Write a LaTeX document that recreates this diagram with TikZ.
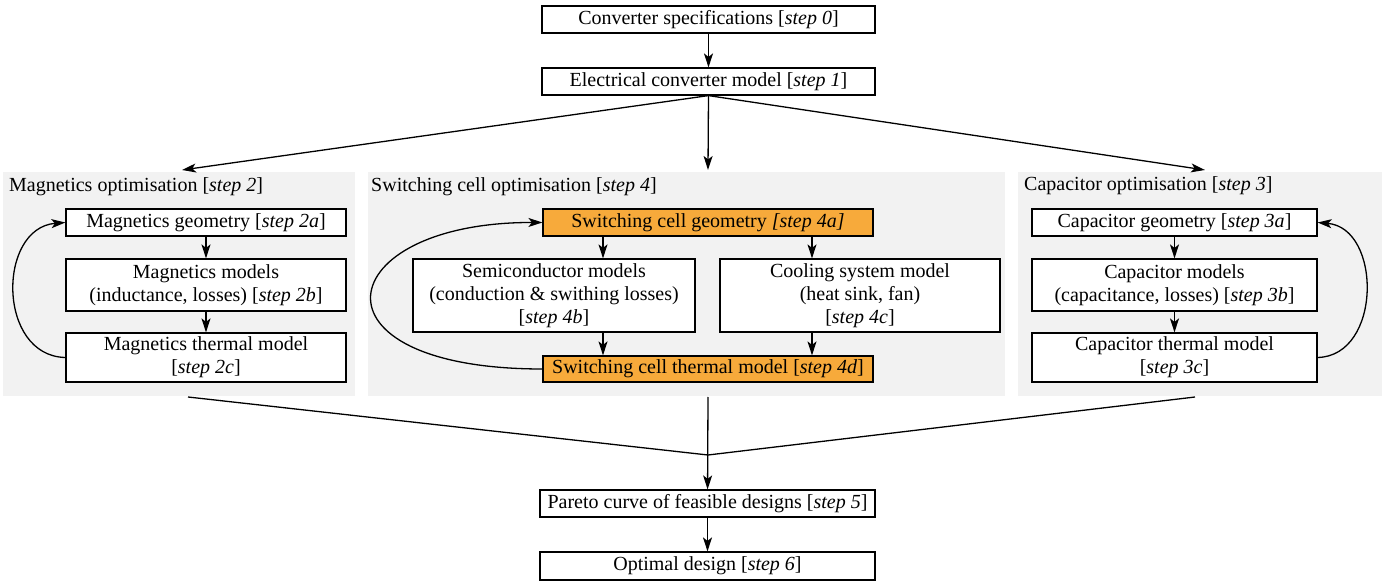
\documentclass[tikz,border=0pt]{standalone}
\usepackage{fontspec}
\setmainfont{Liberation Serif}
\usetikzlibrary{arrows.meta,calc}
\definecolor{panelgray}{HTML}{F2F2F2}
\definecolor{boxorange}{HTML}{F7AA3B}
\begin{document}
\begin{tikzpicture}[x=1pt,y=-1pt,
  every node/.style={font=\fontsize{20}{23}\selectfont},
  box/.style={draw=black,line width=1.2pt,fill=white,inner sep=0pt,align=center},
  obox/.style={box,fill=boxorange},
  panel/.style={fill=panelgray,inner sep=0pt},
  ptitle/.style={anchor=west,inner sep=0pt},
  arr/.style={line width=1.3pt,-{Stealth[length=14pt,width=9pt,inset=3.5pt]}},
  ln/.style={line width=1.3pt}]
\useasboundingbox (0,0) rectangle (1385,585);
% panels
\node[panel,minimum width=352pt,minimum height=224pt] (pL) at (179,284) {};
\node[panel,minimum width=637pt,minimum height=224pt] (pM) at (686.5,284) {};
\node[panel,minimum width=364pt,minimum height=224pt] (pR) at (1200,284) {};
\node[ptitle] (tL) at (9,187) {Magnetics optimisation [\textit{step 2}]};
\node[ptitle] (tM) at (371,187) {Switching cell optimisation [\textit{step 4}]};
\node[ptitle] (tR) at (1024,186) {Capacitor optimisation [\textit{step 3}]};
% top
\node[box,minimum width=333pt,minimum height=27pt] (b0) at (708.5,19.5) {Converter specifications [\textit{step 0}]};
\node[box,minimum width=333pt,minimum height=27pt] (b1) at (708.5,81.5) {Electrical converter model [\textit{step 1}]};
% magnetics
\node[box,minimum width=280pt,minimum height=27pt] (ma) at (206,222.5) {Magnetics geometry [\textit{step 2a}]};
\node[box,minimum width=280pt,minimum height=52pt] (mb) at (206,285) {Magnetics models\\(inductance, losses) [\textit{step 2b}]};
\node[box,minimum width=280pt,minimum height=49pt] (mc) at (206,357.5) {Magnetics thermal model\\{}[\textit{step 2c}]};
% switching cell
\node[obox,minimum width=330pt,minimum height=27pt] (sa) at (708,222.5) {Switching cell geometry \textit{[step 4a]}};
\node[box,minimum width=282pt,minimum height=73pt] (sb) at (554,295.5) {Semiconductor models\\(conduction \& swithing losses)\\{}[\textit{step 4b}]};
\node[box,minimum width=280pt,minimum height=73pt] (sc) at (860,295.5) {Cooling system model\\(heat sink, fan)\\{}[\textit{step 4c}]};
\node[obox,minimum width=330pt,minimum height=26pt] (sd) at (708,369) {Switching cell thermal model [\textit{step 4d}]};
% capacitor
\node[box,minimum width=285pt,minimum height=27pt] (ca) at (1174.5,222.5) {Capacitor geometry [\textit{step 3a}]};
\node[box,minimum width=285pt,minimum height=52pt] (cb) at (1174.5,285) {Capacitor models\\(capacitance, losses) [\textit{step 3b}]};
\node[box,minimum width=285pt,minimum height=49pt] (cc) at (1174.5,357.5) {Capacitor thermal model\\{}[\textit{step 3c}]};
% bottom
\node[box,minimum width=335pt,minimum height=27pt] (b5) at (707.5,503.5) {Pareto curve of feasible designs [\textit{step 5}]};
\node[box,minimum width=335pt,minimum height=28pt] (b6) at (707.5,566) {Optimal design [\textit{step 6}]};
% coordinates
\coordinate (eL) at (182,170);
\coordinate (eM) at (708,170);
\coordinate (eR) at (1205,170);
\coordinate (bl) at (188,397);
\coordinate (bm) at (708,397);
\coordinate (br) at (1195,397);
\coordinate (j) at (708,455);
% connectors
\draw[arr] (b0) -- (b1);
\draw[arr] (b1.south) -- (eL);
\draw[arr] (b1.south) -- (eM);
\draw[arr] (b1.south) -- (eR);
\draw[arr] (ma) -- (mb);
\draw[arr] (mb) -- (mc);
\draw[arr] (mc.west) .. controls (-3,356) and (-3,228) .. (ma.west);
\draw[arr] ([xshift=-105pt]sa.south) -- ([xshift=-105pt]sa.south |- sb.north);
\draw[arr] ([xshift=104pt]sa.south) -- ([xshift=104pt]sa.south |- sc.north);
\draw[arr] ([xshift=-105pt]sa.south |- sb.south) -- ([xshift=-105pt]sd.north);
\draw[arr] ([xshift=104pt]sa.south |- sc.south) -- ([xshift=104pt]sd.north);
\draw[arr] (sd.west) .. controls (300,369) and (330,222) .. (sa.west);
\draw[arr] (ca) -- (cb);
\draw[arr] (cb) -- (cc);
\draw[arr] (cc.east) .. controls (1382,356) and (1382,228) .. (ca.east);
\draw[ln] (bl) -- (j);
\draw[ln] (br) -- (j);
\draw[arr] (bm) -- (b5);
\draw[arr] (b5) -- (b6);
\end{tikzpicture}
\end{document}
